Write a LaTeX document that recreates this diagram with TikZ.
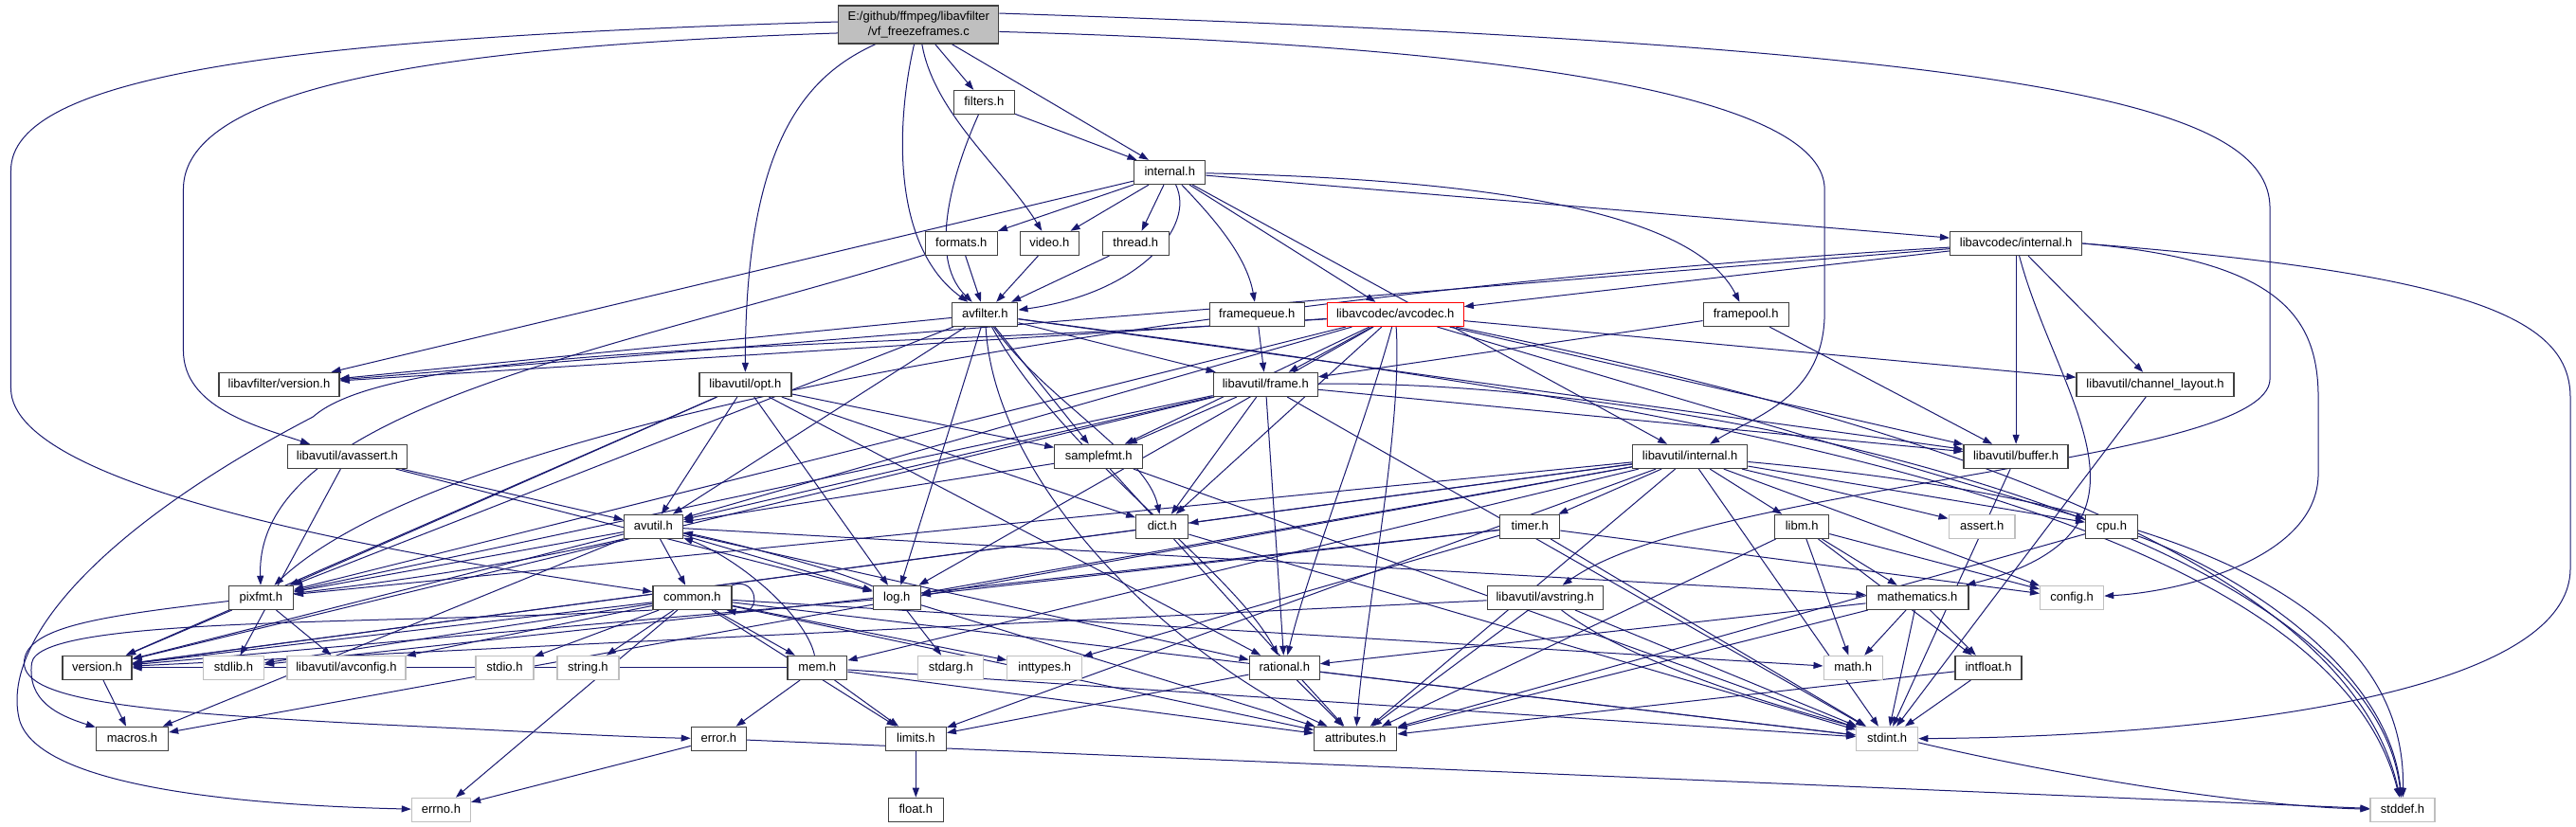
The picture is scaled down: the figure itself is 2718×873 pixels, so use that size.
\documentclass[tikz,border=0pt]{standalone}
\usepackage{fontspec}
\setmainfont{Liberation Sans}
\usetikzlibrary{arrows.meta}
\definecolor{edgeblue}{HTML}{191970}
\definecolor{boxline}{HTML}{404040}
\definecolor{sysline}{HTML}{BFBFBF}
\definecolor{rootfill}{HTML}{BFBFBF}
\pgfdeclarelayer{bg}
\pgfdeclarelayer{edges}
\pgfsetlayers{bg,edges,main}

\begin{document}
\begin{tikzpicture}[
    x=1pt, y=-1pt,
    hdr/.style={
      draw=boxline,
      fill=white,
      line width=1.3pt,
      minimum height=25pt,
      inner sep=0pt,
      text height=9.5pt,
      text depth=2.5pt,
      font=\fontsize{13}{15}\selectfont
    },
    sys/.style={hdr, draw=sysline},
    trunc/.style={hdr, draw=red},
    rootbox/.style={
      draw=boxline,
      fill=rootfill,
      line width=1.3pt,
      minimum height=40pt,
      inner sep=0pt,
      align=center,
      font=\fontsize{13}{16}\selectfont
    },
    dep/.style={draw=edgeblue, line width=1pt, -{Triangle[length=10pt,width=7pt]}}
  ]
    \begin{pgfonlayer}{bg}
      \fill[white] (0,0) rectangle (2718,873);
    \end{pgfonlayer}

    % rows of the include graph, top to bottom
    \node[rootbox, minimum width=169pt] (root) at (969,26) {E:/github/ffmpeg/libavfilter\\/vf\_freezeframes.c};

    \node[hdr, minimum width=64pt] (filters) at (1038,108) {filters.h};
    \node[hdr, minimum width=75pt] (lavfint) at (1234,182) {internal.h};

    \node[hdr, minimum width=76pt] (formats) at (1014,257) {formats.h};
    \node[hdr, minimum width=62pt] (video) at (1107,257) {video.h};
    \node[hdr, minimum width=70pt] (thread) at (1198,257) {thread.h};
    \node[hdr, minimum width=139pt] (lavcint) at (2127,257) {libavcodec/internal.h};

    \node[hdr, minimum width=69pt] (avfilter) at (1039,332) {avfilter.h};
    \node[hdr, minimum width=100pt] (framequeue) at (1326,332) {framequeue.h};
    \node[trunc, minimum width=144pt] (avcodec) at (1472,332) {libavcodec/avcodec.h};
    \node[hdr, minimum width=90pt] (framepool) at (1842,332) {framepool.h};

    \node[hdr, minimum width=127pt] (lavfver) at (294,406) {libavfilter/version.h};
    \node[hdr, minimum width=97pt] (opt) at (786,406) {libavutil/opt.h};
    \node[hdr, minimum width=110pt] (frame) at (1335,406) {libavutil/frame.h};
    \node[hdr, minimum width=166pt] (chlayout) at (2274,406) {libavutil/channel\_layout.h};

    \node[hdr, minimum width=126pt] (avassert) at (366,482) {libavutil/avassert.h};
    \node[hdr, minimum width=93pt] (samplefmt) at (1159,482) {samplefmt.h};
    \node[hdr, minimum width=121pt] (lavuint) at (1783,482) {libavutil/internal.h};
    \node[hdr, minimum width=110pt] (buffer) at (2127,482) {libavutil/buffer.h};

    \node[hdr, minimum width=62pt] (avutil) at (689,556) {avutil.h};
    \node[hdr, minimum width=55pt] (dict) at (1226,556) {dict.h};
    \node[hdr, minimum width=63pt] (timer) at (1614,556) {timer.h};
    \node[hdr, minimum width=57pt] (libm) at (1901,556) {libm.h};
    \node[sys, minimum width=70pt] (assert) at (2091,556) {assert.h};
    \node[hdr, minimum width=55pt] (cpu) at (2228,556) {cpu.h};

    \node[hdr, minimum width=68pt] (pixfmt) at (275,631) {pixfmt.h};
    \node[hdr, minimum width=83pt] (common) at (730,631) {common.h};
    \node[hdr, minimum width=50pt] (log) at (946,631) {log.h};
    \node[hdr, minimum width=122pt] (avstring) at (1630,631) {libavutil/avstring.h};
    \node[hdr, minimum width=108pt] (mathematics) at (2023,631) {mathematics.h};
    \node[sys, minimum width=67pt] (config) at (2186,631) {config.h};

    \node[hdr, minimum width=73pt] (version) at (102,705) {version.h};
    \node[sys, minimum width=64pt] (stdlib) at (246,705) {stdlib.h};
    \node[sys, minimum width=125pt] (avconfig) at (365,705) {libavutil/avconfig.h};
    \node[sys, minimum width=61pt] (stdio) at (532,705) {stdio.h};
    \node[sys, minimum width=65pt] (string) at (620,705) {string.h};
    \node[hdr, minimum width=63pt] (mem) at (862,705) {mem.h};
    \node[sys, minimum width=69pt] (stdarg) at (1003,705) {stdarg.h};
    \node[sys, minimum width=79pt] (inttypes) at (1102,705) {inttypes.h};
    \node[hdr, minimum width=74pt] (rational) at (1355,705) {rational.h};
    \node[sys, minimum width=62pt] (math) at (1955,705) {math.h};
    \node[hdr, minimum width=70pt] (intfloat) at (2098,705) {intfloat.h};

    \node[hdr, minimum width=76pt] (macros) at (139,780) {macros.h};
    \node[hdr, minimum width=58pt] (error) at (758,780) {error.h};
    \node[hdr, minimum width=64pt] (limits) at (966,780) {limits.h};
    \node[hdr, minimum width=87pt] (attributes) at (1430,780) {attributes.h};
    \node[sys, minimum width=65pt] (stdint) at (1991,780) {stdint.h};

    \node[sys, minimum width=62pt] (errno) at (465,855) {errno.h};
    \node[hdr, minimum width=58pt] (float) at (966,855) {float.h};
    \node[sys, minimum width=68pt] (stddef) at (2535,855) {stddef.h};

    \begin{pgfonlayer}{edges}
    % vf_freezeframes.c
    \draw[dep] (root.178) .. controls (300,40) and (11,80) .. (11,180) -- (11,410)
      .. controls (11,520) and (450,590) .. (common);
    \draw[dep] (root.186) .. controls (420,50) and (193,100) .. (193,200) -- (193,370)
      .. controls (193,430) and (270,450) .. (avassert);
    \draw[dep] (root) .. controls (850,80) and (786,150) .. (opt);
    \draw[dep] (root) .. controls (945,130) and (940,260) .. (avfilter);
    \draw[dep] (root) .. controls (985,120) and (1060,180) .. (video);
    \draw[dep] (root) -- (filters);
    \draw[dep] (root) -- (lavfint);
    \draw[dep] (root.-5) .. controls (1650,50) and (1925,110) .. (1925,200) -- (1925,330)
      .. controls (1925,420) and (1850,440) .. (lavuint);
    \draw[dep] (root.8) .. controls (2150,50) and (2395,110) .. (2395,220) -- (2395,400)
      .. controls (2395,490) and (1800,510) .. (avstring);

    % libavfilter
    \draw[dep] (filters) .. controls (1010,170) and (975,270) .. (avfilter);
    \draw[dep] (filters) -- (lavfint);
    \draw[dep] (lavfint) -- (lavfver);
    \draw[dep] (lavfint) -- (formats);
    \draw[dep] (lavfint) -- (video);
    \draw[dep] (lavfint) -- (thread);
    \draw[dep] (lavfint) .. controls (1262,240) and (1200,310) .. (avfilter);
    \draw[dep] (lavfint) .. controls (1280,230) and (1315,270) .. (framequeue);
    \draw[dep] (lavfint) -- (avcodec);
    \draw[dep] (lavfint) .. controls (1600,190) and (1790,230) .. (framepool);
    \draw[dep] (lavfint) -- (lavcint);
    \draw[dep] (lavfint) -- (lavuint);
    \draw[dep] (formats) -- (avfilter);
    \draw[dep] (formats) .. controls (650,370) and (268,430) .. (pixfmt);
    \draw[dep] (video) -- (avfilter);
    \draw[dep] (thread) -- (avfilter);
    \draw[dep] (framequeue) -- (frame);
    \draw[dep] (framepool) -- (frame);
    \draw[dep] (framepool) -- (buffer);

    \draw[dep] (avfilter) -- (lavfver);
    \draw[dep] (avfilter) -- (pixfmt);
    \draw[dep] (avfilter) -- (avutil);
    \draw[dep] (avfilter) -- (log);
    \draw[dep] (avfilter) .. controls (1100,420) and (1210,480) .. (dict);
    \draw[dep] (avfilter) -- (samplefmt);
    \draw[dep] (avfilter) -- (frame);
    \draw[dep] (avfilter) -- (buffer);
    \draw[dep] (avfilter) .. controls (1120,480) and (1300,600) .. (rational);
    \draw[dep] (avfilter) .. controls (1050,520) and (1250,700) .. (attributes);
    \draw[dep] (avfilter) .. controls (1700,420) and (2450,520) .. (stddef);

    % libavcodec
    \draw[dep] (lavcint) -- (avcodec);
    \draw[dep] (lavcint) -- (lavfver);
    \draw[dep] (lavcint) .. controls (1400,300) and (500,420) .. (pixfmt);
    \draw[dep] (lavcint) -- (buffer);
    \draw[dep] (lavcint) -- (chlayout);
    \draw[dep] (lavcint) .. controls (2170,420) and (2300,560) .. (mathematics);
    \draw[dep] (lavcint.east) .. controls (2400,275) and (2446,330) .. (2446,420) -- (2446,500)
      .. controls (2446,590) and (2300,625) .. (config);
    \draw[dep] (lavcint.east) .. controls (2620,290) and (2712,340) .. (2712,420) -- (2712,600)
      .. controls (2712,740) and (2300,778) .. (stdint);

    \draw[dep] (avcodec) -- (lavfver);
    \draw[dep] (avcodec) -- (avutil);
    \draw[dep] (avcodec) -- (pixfmt);
    \draw[dep] (avcodec) -- (log);
    \draw[dep] (avcodec) -- (samplefmt);
    \draw[dep] (avcodec) -- (dict);
    \draw[dep] (avcodec) -- (frame);
    \draw[dep] (avcodec) -- (buffer);
    \draw[dep] (avcodec) -- (chlayout);
    \draw[dep] (avcodec) -- (cpu);
    \draw[dep] (avcodec) .. controls (1440,450) and (1380,600) .. (rational);
    \draw[dep] (avcodec) .. controls (1480,450) and (1440,650) .. (attributes);
    \draw[dep] (avcodec) .. controls (1900,420) and (2470,560) .. (stddef);
    \draw[dep] (avcodec) .. controls (900,370) and (420,360) .. (330,440)
      .. controls (100,560) and (0,680) .. (20,760)
      .. controls (40,830) and (250,850) .. (errno);

    % libavutil
    \draw[dep] (opt) -- (avutil);
    \draw[dep] (opt) -- (dict);
    \draw[dep] (opt) -- (log);
    \draw[dep] (opt) -- (pixfmt);
    \draw[dep] (opt) -- (rational);
    \draw[dep] (opt) -- (samplefmt);
    \draw[dep] (opt) -- (version);

    \draw[dep] (frame) -- (avutil);
    \draw[dep] (frame) -- (buffer);
    \draw[dep] (frame) -- (dict);
    \draw[dep] (frame) -- (rational);
    \draw[dep] (frame) -- (samplefmt);
    \draw[dep] (frame) -- (pixfmt);
    \draw[dep] (frame) -- (version);
    \draw[dep] (frame) -- (stdint);
    \draw[dep] (frame) .. controls (1800,400) and (2500,560) .. (stddef);

    \draw[dep] (chlayout) -- (stdint);
    \draw[dep] (buffer) -- (stdint);

    \draw[dep] (avassert) -- (stdlib);
    \draw[dep] (avassert) -- (avutil);
    \draw[dep] (avassert) -- (log);

    \draw[dep] (samplefmt) -- (avutil);
    \draw[dep] (samplefmt) -- (attributes);
    \draw[dep] (samplefmt) -- (stdint);

    \draw[dep] (lavuint) -- (limits);
    \draw[dep] (lavuint) -- (stdint);
    \draw[dep] (lavuint) .. controls (2200,520) and (2540,600) .. (stddef);
    \draw[dep] (lavuint) -- (assert);
    \draw[dep] (lavuint) -- (config);
    \draw[dep] (lavuint) -- (attributes);
    \draw[dep] (lavuint) -- (timer);
    \draw[dep] (lavuint) -- (cpu);
    \draw[dep] (lavuint) -- (dict);
    \draw[dep] (lavuint) -- (macros);
    \draw[dep] (lavuint) -- (mem);
    \draw[dep] (lavuint) -- (pixfmt);
    \draw[dep] (lavuint) -- (version);
    \draw[dep] (lavuint) -- (libm);
    \draw[dep] (lavuint) -- (log);

    \draw[dep] (avutil) -- (common);
    \draw[dep] (avutil.south west) .. controls (300,650) and (25,630) .. (25,700)
      .. controls (25,740) and (150,752) .. (400,765)
      .. controls (550,772) and (650,778) .. (error);
    \draw[dep] (avutil) -- (rational);
    \draw[dep] (avutil) -- (version);
    \draw[dep] (avutil) -- (macros);
    \draw[dep] (avutil) -- (mathematics);
    \draw[dep] (avutil) -- (log);
    \draw[dep] (avutil) -- (pixfmt);

    \draw[dep] (dict) -- (stdint);
    \draw[dep] (dict) -- (version);

    \draw[dep] (timer) -- (config);
    \draw[dep] (timer) -- (stdint);
    \draw[dep] (timer) -- (inttypes);
    \draw[dep] (timer) -- (log);
    \draw[dep] (timer) -- (stdlib);

    \draw[dep] (libm) -- (math);
    \draw[dep] (libm) -- (config);
    \draw[dep] (libm) -- (attributes);
    \draw[dep] (libm) -- (intfloat);
    \draw[dep] (libm) -- (mathematics);

    \draw[dep] (cpu) .. controls (2350,600) and (2520,700) .. (stddef);
    \draw[dep] (cpu) -- (attributes);

    \draw[dep] (pixfmt) -- (avconfig);
    \draw[dep] (pixfmt) -- (version);

    \draw[dep] (common) -- (errno);
    \draw[dep] (common) -- (inttypes);
    \draw[dep] (common) -- (limits);
    \draw[dep] (common) -- (math);
    \draw[dep] (common) -- (stdint);
    \draw[dep] (common) -- (stdio);
    \draw[dep] (common) -- (stdlib);
    \draw[dep] (common) -- (string);
    \draw[dep] (common) -- (attributes);
    \draw[dep] (common.south west) .. controls (400,660) and (40,650) .. (33,700)
      .. controls (28,740) and (60,755) .. (macros);
    \draw[dep] (common) -- (version);
    \draw[dep] (common) -- (avconfig);
    \draw[dep] (common) -- (mem);
    \draw[dep] (common.north east) .. controls (800,608) and (805,652) .. ([xshift=-6pt]common.south east);

    \draw[dep] (log) -- (stdarg);
    \draw[dep] (log) .. controls (880,600) and (760,570) .. (avutil);
    \draw[dep] (log) -- (attributes);
    \draw[dep] (log) -- (version);

    \draw[dep] (avstring) .. controls (1800,760) and (2300,850) .. (stddef);
    \draw[dep] (avstring) -- (stdint);
    \draw[dep] (avstring) -- (attributes);
    \draw[dep] (avstring) -- (version);

    \draw[dep] (mathematics) -- (stdint);
    \draw[dep] (mathematics) -- (math);
    \draw[dep] (mathematics) -- (attributes);
    \draw[dep] (mathematics) -- (rational);
    \draw[dep] (mathematics) -- (intfloat);

    \draw[dep] (version) -- (macros);

    \draw[dep] (mem) -- (limits);
    \draw[dep] (mem) -- (stdint);
    \draw[dep] (mem) -- (attributes);
    \draw[dep] (mem) -- (error);
    \draw[dep] (mem) .. controls (850,650) and (780,590) .. (avutil);
    \draw[dep] (mem) -- (version);

    \draw[dep] (rational) -- (stdint);
    \draw[dep] (rational) -- (limits);
    \draw[dep] (rational) -- (attributes);

    \draw[dep] (intfloat) -- (stdint);
    \draw[dep] (intfloat) -- (attributes);

    \draw[dep] (error) -- (errno);
    \draw[dep] (error) -- (stddef);

    \draw[dep] (limits) -- (float);
    \end{pgfonlayer}
\end{tikzpicture}
\end{document}
